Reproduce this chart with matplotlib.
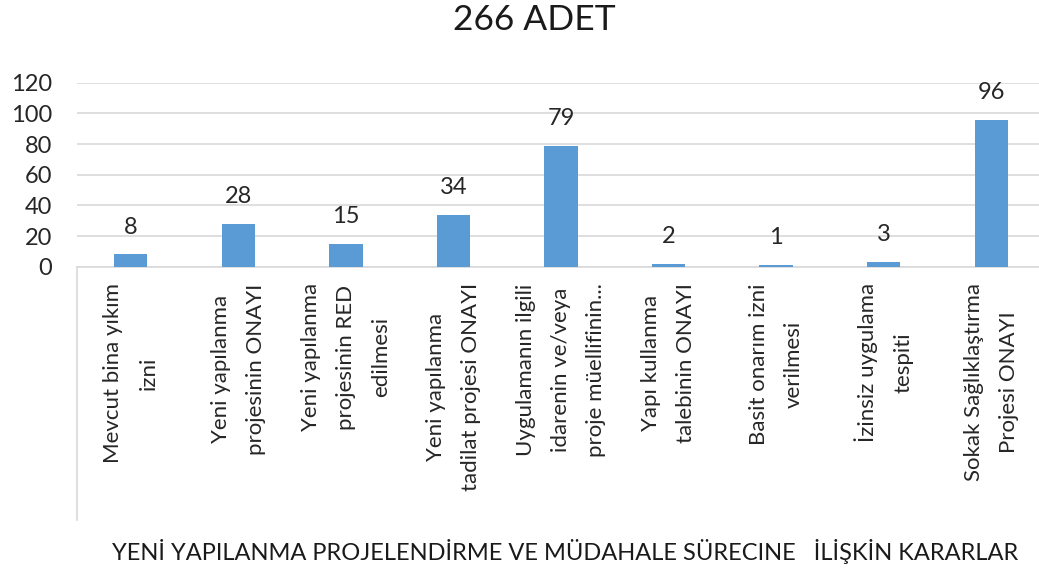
import matplotlib
matplotlib.use('Agg')
import matplotlib.pyplot as plt

plt.rcParams['font.family'] = ['Lato', 'DejaVu Sans']

# ----- datos -----
kategoriler = [
    'Mevcut bina yıkım\nizni',
    'Yeni yapılanma\nprojesinin ONAYI',
    'Yeni yapılanma\nprojesinin RED\nedilmesi',
    'Yeni yapılanma\ntadilat projesi ONAYI',
    'Uygulamanın ilgili\nidarenin ve/veya\nproje müellifinin...',
    'Yapı kullanma\ntalebinin ONAYI',
    'Basit onarım izni\nverilmesi',
    'İzinsiz uygulama\ntespiti',
    'Sokak Sağlıklaştırma\nProjesi ONAYI',
]
adet = [8, 28, 15, 34, 79, 2, 1, 3, 96]
y_ticks = [0, 20, 40, 60, 80, 100, 120]

baslik = '266 ADET'
x_etiket = 'YENİ YAPILANMA PROJELENDİRME VE MÜDAHALE SÜRECINE   İLİŞKİN KARARLAR'

W, H = 1039, 573
fig = plt.figure(figsize=(W / 100, H / 100), dpi=100)
ax = fig.add_axes([77 / W, (H - 266.7) / H, 968 / W, 184 / H])

x = list(range(len(adet)))
ax.bar(x, adet, width=0.31, color='#5B9BD5', zorder=3)

for xi, v in zip(x, adet):
    ax.annotate(str(v), (xi, v), xytext=(0, 15), textcoords='offset points',
                ha='center', va='baseline', fontsize=17, color='#262626')

ax.set_xlim(-0.5, len(adet) - 0.5)
ax.set_ylim(0, 120)
ax.set_yticks(y_ticks)
ax.tick_params(axis='y', length=0, labelsize=17, pad=18, labelcolor='#262626')
ax.grid(axis='y', color='#D9D9D9', linewidth=1.2, zorder=0)

ax.set_xticks(x)
ax.set_xticklabels(kategoriler, rotation=90, ha='center', va='top',
                   multialignment='center', linespacing=1.95,
                   fontsize=16, color='#262626')
ax.tick_params(axis='x', length=0, pad=12)

for s in ['top', 'right', 'left']:
    ax.spines[s].set_visible(False)
ax.spines['bottom'].set_color('#D9D9D9')
ax.spines['bottom'].set_linewidth(1.2)

# linea vertical del eje de categorias
ax.plot([-0.5, -0.5], [0, -165], color='#D9D9D9', linewidth=1.2, clip_on=False)

fig.text(534 / W, 1 - 20 / H, baslik, ha='center', va='center', fontsize=25.5, color='#1a1a1a')
fig.text(565 / W, 1 - 551 / H, x_etiket, ha='center', va='center', fontsize=17, color='#1a1a1a')

fig.savefig('out.png', dpi=100, facecolor='white')
